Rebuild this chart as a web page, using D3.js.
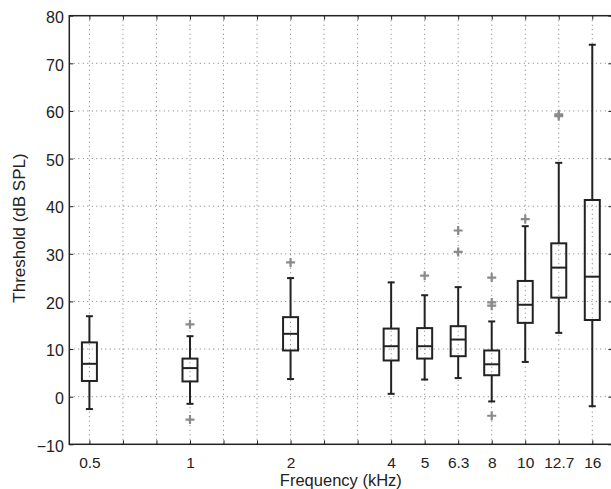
<!DOCTYPE html>
<html>
<head>
<meta charset="utf-8">
<script src="https://cdn.jsdelivr.net/npm/d3@7"></script>
<style>
  body { margin: 0; background: white; }
  text { font-family: "Liberation Sans", Arial, sans-serif; fill: #222; }
</style>
</head>
<body>
<script>
// boxplot summary per frequency
var freqLabels = ["0.5", "1", "2", "4", "5", "6.3", "8", "10", "12.7", "16"]
var freqSlots = [1, 4, 7, 10, 11, 12, 13, 14, 15, 16]
var whiskerLow = [-2.6, -1.5, 3.7, 0.6, 3.6, 3.9, -1.0, 7.3, 13.4, -2.0]
var q1 = [3.3, 3.2, 9.7, 7.6, 8.0, 8.5, 4.5, 15.5, 20.8, 16.1]
var median = [6.9, 6.0, 13.2, 10.6, 10.6, 12.0, 6.8, 19.3, 27.1, 25.2]
var q3 = [11.4, 8.0, 16.7, 14.3, 14.4, 14.8, 9.7, 24.3, 32.2, 41.3]
var whiskerHigh = [16.9, 12.7, 24.9, 24.0, 21.3, 23.0, 15.8, 35.8, 49.1, 73.9]
var outliers = [[], [15.2, -4.8], [28.2], [], [25.4], [34.9, 30.4],
   [25.0, 19.8, 19.1, -4.0], [37.3], [58.9, 59.3], []]
var yTicks = [-10, 0, 10, 20, 30, 40, 50, 60, 70, 80]
var slotTicks = d3.range(1, 17)

var width = 611
var height = 489
var plotL = 69.3, plotR = 612.4, plotT = 15.7, plotB = 444.3

var svg = d3.select("body").append("svg")
   .attr("width", width)
   .attr("height", height)

var x = d3.scaleLinear().domain([0.4, 16.6]).range([plotL, plotR])
var y = d3.scaleLinear().domain([-10, 80]).range([plotB, plotT])

// grid
var grid = svg.append("g")
grid.selectAll(".gy")
   .data(yTicks.slice(1, -1))
   .enter().append("line")
   .attr("x1", plotL).attr("x2", plotR)
   .attr("y1", function (d) { return y(d); })
   .attr("y2", function (d) { return y(d); })
   .style("stroke", "#444").style("stroke-width", 0.7)
   .style("stroke-dasharray", "1,3.5")
grid.selectAll(".gx")
   .data(slotTicks)
   .enter().append("line")
   .attr("y1", plotT).attr("y2", plotB)
   .attr("x1", function (d) { return x(d); })
   .attr("x2", function (d) { return x(d); })
   .style("stroke", "#444").style("stroke-width", 0.7)
   .style("stroke-dasharray", "1,3.5")

// axes (ticks pointing inward)
var labelAt = {}
freqSlots.forEach(function (s, i) { labelAt[s] = freqLabels[i]; })

svg.append("g")
   .attr("transform", "translate(0," + plotB + ")")
   .call(d3.axisBottom(x).tickValues(slotTicks).tickSizeInner(-4).tickSizeOuter(0)
      .tickPadding(12.5).tickFormat(function (d) { return labelAt[d] || ""; }))
   .call(function (g) {
      g.select(".domain").remove()
      g.selectAll("text").style("font-size", "15.5px").style("fill", "#222")
      g.selectAll("line").style("stroke", "#222")
   })
svg.append("g")
   .attr("transform", "translate(0," + plotT + ")")
   .call(d3.axisTop(x).tickValues(slotTicks).tickSizeInner(-4).tickSizeOuter(0)
      .tickFormat(""))
   .call(function (g) {
      g.select(".domain").remove()
      g.selectAll("line").style("stroke", "#222")
   })
svg.append("g")
   .attr("transform", "translate(" + plotL + ",0)")
   .call(d3.axisLeft(y).tickValues(yTicks).tickSizeInner(-4).tickSizeOuter(0)
      .tickPadding(5.5).tickFormat(function (d) { return d < 0 ? "\u2212" + (-d) : d; }))
   .call(function (g) {
      g.select(".domain").remove()
      g.selectAll("text").style("font-size", "16px").style("fill", "#222")
         .attr("dy", "0.42em")
      g.selectAll("line").style("stroke", "#222")
   })
svg.append("g")
   .attr("transform", "translate(" + plotR + ",0)")
   .call(d3.axisRight(y).tickValues(yTicks).tickSizeInner(-4).tickSizeOuter(0)
      .tickFormat(""))
   .call(function (g) {
      g.select(".domain").remove()
      g.selectAll("line").style("stroke", "#222")
   })

// frame
svg.append("rect")
   .attr("x", plotL).attr("y", plotT)
   .attr("width", plotR - plotL).attr("height", plotB - plotT)
   .style("fill", "none").style("stroke", "#222").style("stroke-width", 1.5)

// boxes
var boxW = 15, capW = 7
var boxes = svg.selectAll(".box")
   .data(freqSlots)
   .enter().append("g")
   .each(function (s, i) {
      var g = d3.select(this)
      var cx = x(s)
      g.append("line")
         .attr("x1", cx).attr("x2", cx)
         .attr("y1", y(q3[i])).attr("y2", y(whiskerHigh[i]))
      g.append("line")
         .attr("x1", cx).attr("x2", cx)
         .attr("y1", y(q1[i])).attr("y2", y(whiskerLow[i]))
      g.append("line")
         .attr("x1", cx - capW / 2).attr("x2", cx + capW / 2)
         .attr("y1", y(whiskerHigh[i])).attr("y2", y(whiskerHigh[i]))
      g.append("line")
         .attr("x1", cx - capW / 2).attr("x2", cx + capW / 2)
         .attr("y1", y(whiskerLow[i])).attr("y2", y(whiskerLow[i]))
      g.append("rect")
         .attr("x", cx - boxW / 2).attr("width", boxW)
         .attr("y", y(q3[i])).attr("height", y(q1[i]) - y(q3[i]))
         .style("fill", "none")
      g.append("line")
         .attr("x1", cx - boxW / 2).attr("x2", cx + boxW / 2)
         .attr("y1", y(median[i])).attr("y2", y(median[i]))
      g.selectAll("line, rect")
         .style("stroke", "#222").style("stroke-width", 2)

      outliers[i].forEach(function (v) {
         var py = y(v)
         g.append("path")
            .attr("d", "M" + (cx - 4.5) + "," + py + "H" + (cx + 4.5)
               + "M" + cx + "," + (py - 4.5) + "V" + (py + 4.5))
            .style("stroke", "#8a8a8a").style("stroke-width", 2.2)
            .style("fill", "none")
      })
   })

// axis titles
svg.append("text")
   .attr("x", (plotL + plotR) / 2).attr("y", 485.5)
   .attr("text-anchor", "middle")
   .style("font-size", "16.5px")
   .text("Frequency (kHz)")
svg.append("text")
   .attr("transform", "translate(25," + 228 + ") rotate(-90)")
   .attr("text-anchor", "middle")
   .style("font-size", "17px")
   .text("Threshold (dB SPL)")
</script>
</body>
</html>
